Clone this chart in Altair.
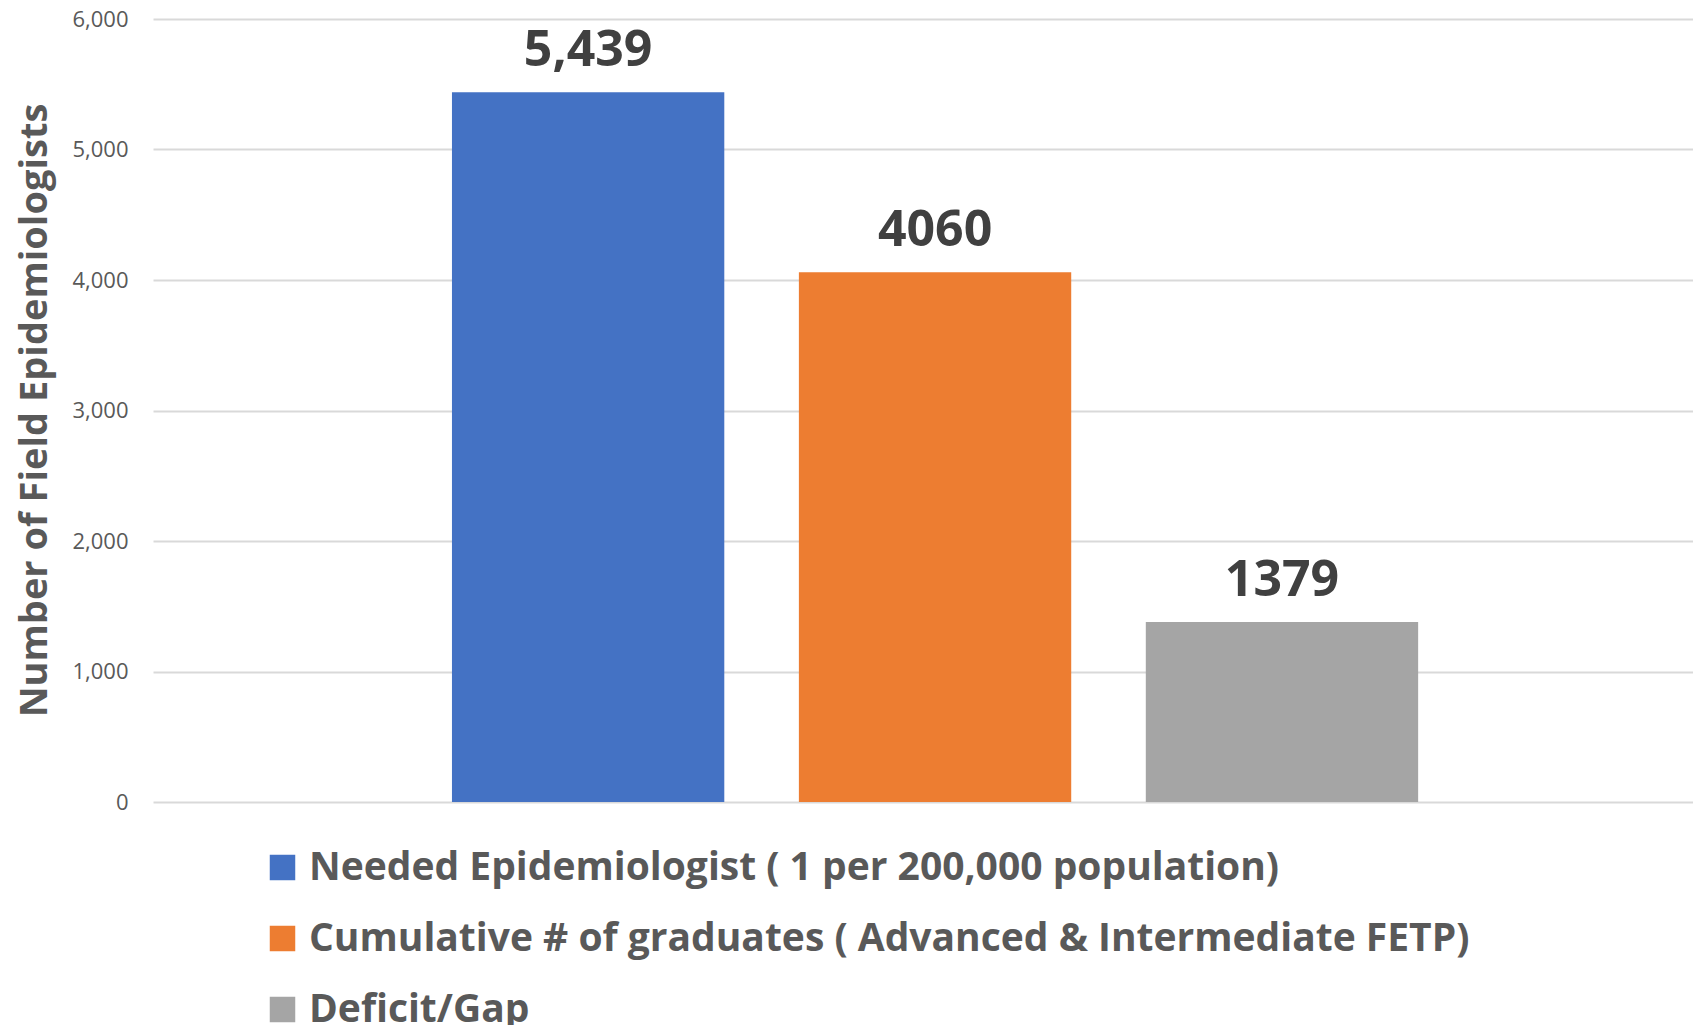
import altair as alt
import pandas as pd

series = [
    "Needed Epidemiologist ( 1 per 200,000 population)",
    "Cumulative # of graduates ( Advanced & Intermediate FETP)",
    "Deficit/Gap",
]
values = [5439, 4060, 1379]
labels = ["5,439", "4060", "1379"]
colors = ["#4472C4", "#ED7D31", "#A5A5A5"]
y_ticks = [0, 1000, 2000, 3000, 4000, 5000, 6000]

df = pd.DataFrame({"series": series, "value": values, "label": labels})

FONT = "Open Sans"

x_enc = alt.X(
    "series:N",
    sort=series,
    axis=None,
    scale=alt.Scale(domain=series, paddingInner=0.215, paddingOuter=0.827, align=0.521),
)

base = alt.Chart(df).encode(x=x_enc)

bars = base.mark_bar().encode(
    y=alt.Y(
        "value:Q",
        scale=alt.Scale(domain=[0, 6000], nice=False),
        axis=alt.Axis(
            values=y_ticks,
            format=",.0f",
            title="Number of Field Epidemiologists",
            titleFont=FONT,
            titleFontSize=38,
            titleFontWeight="bold",
            titleColor="#595959",
            titleAngle=270,
            titleBaseline="alphabetic",
            titleAlign="center",
            titleX=-107,
            titleY=391,
            labelFont=FONT,
            labelFontSize=22,
            labelColor="#595959",
            labelPadding=25,
            domain=False,
            ticks=False,
            grid=True,
            gridColor="#D9D9D9",
            gridWidth=2,
        ),
    ),
    color=alt.Color(
        "series:N",
        sort=series,
        scale=alt.Scale(domain=series, range=colors),
        legend=alt.Legend(
            title=None,
            orient="none",
            legendX=110,
            legendY=829,
            direction="vertical",
            symbolType="square",
            symbolSize=650,
            symbolStrokeWidth=0,
            labelFont=FONT,
            labelFontSize=39,
            labelFontWeight="bold",
            labelColor="#595959",
            labelLimit=2000,
            labelOffset=7,
            rowPadding=31,
            padding=0,
        ),
    ),
)

text = base.mark_text(
    dy=-26,
    baseline="alphabetic",
    fontSize=50,
    fontWeight="bold",
    font=FONT,
    color="#404040",
).encode(y=alt.Y("value:Q"), text="label:N")

chart = (
    alt.layer(bars, text)
    .properties(
        width=1540,
        height=783,
        autosize="none",
        padding={"left": 145, "top": 11, "right": 0, "bottom": 223},
    )
    .configure_view(stroke=None)
)

chart.save("out.html", embed_options={"renderer": "svg", "actions": False})
